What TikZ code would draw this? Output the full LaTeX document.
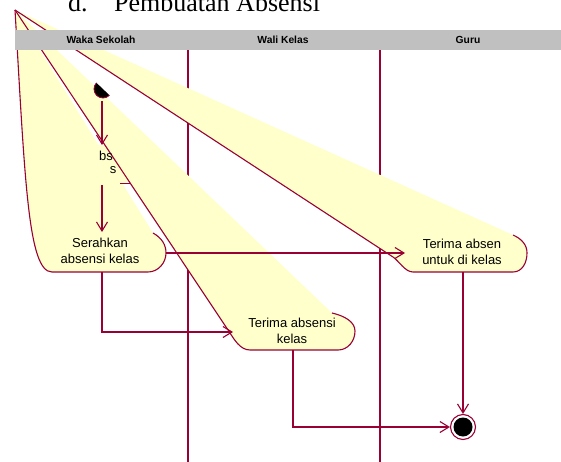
\documentclass[tikz,border=0pt]{standalone}
\usepackage{fontspec}
\setmainfont{Liberation Serif}
\newfontfamily\arialfont{Liberation Sans}
\usetikzlibrary{arrows.meta}
\definecolor{rosered}{RGB}{153,0,51}
\definecolor{noteyellow}{RGB}{255,255,204}
\definecolor{lanegray}{RGB}{192,192,192}

\begin{document}
\begin{tikzpicture}[x=1pt,y=-1pt,
  flow/.style={draw=rosered, line width=1.1pt,
    -{Straight Barb[length=9pt,width=11pt,line width=1.1pt]}},
  outline/.style={draw=rosered, line width=1.1pt},
  acttext/.style={font=\arialfont\fontsize{13}{16}\selectfont, align=center,
    text=black, inner sep=0pt},
  lanelabel/.style={font=\arialfont\bfseries\fontsize{10.3}{12}\selectfont,
    inner sep=0pt},
  lanerule/.style={draw=rosered, line width=1.1pt},
  titletext/.style={font=\fontsize{26}{30}\selectfont, anchor=base west,
    inner sep=0pt}]
\useasboundingbox (0,0) rectangle (561,462);

% swimlane separators
\draw[lanerule] (188,50) -- (188,462);
\draw[lanerule] (380,50) -- (380,462);

% first activity (mostly covered)
\fill[noteyellow] (68,145) -- (122,145) .. controls (140,145) and (140,184) .. (122,184)
  -- (68,184) -- cycle;

\coordinate (apex) at (15,10);

% activity: Serahkan absensi kelas
\fill[noteyellow] (apex) -- (153,233) .. controls (162,238) and (166,245) .. (166,253)
  .. controls (166,263) and (158,272) .. (148,272) -- (52,272)
  .. controls (28,272) and (25,180) .. (apex) -- cycle;
\draw[outline] (153,233) .. controls (162,238) and (166,245) .. (166,253)
  .. controls (166,263) and (158,272) .. (148,272) -- (52,272)
  .. controls (28,272) and (25,180) .. (apex);

% activity: Terima absensi kelas
\fill[noteyellow] (apex) -- (332,313) .. controls (345,316) and (355,322) .. (355,331)
  .. controls (355,341) and (348,350) .. (338,350) -- (250,350)
  .. controls (240,350) and (234,339) .. (230,333) -- cycle;
\draw[outline] (332,313) .. controls (345,316) and (355,322) .. (355,331)
  .. controls (355,341) and (348,350) .. (338,350) -- (250,350)
  .. controls (240,350) and (234,339) .. (230,333) -- (apex);

% activity: Terima absen untuk di kelas
\fill[noteyellow] (apex) -- (513,235) .. controls (522,239) and (527,245) .. (527,253)
  .. controls (527,263) and (522,272) .. (513,272) -- (413,272)
  .. controls (405,272) and (399,261) .. (393,257) -- cycle;
\draw[outline] (513,235) .. controls (522,239) and (527,245) .. (527,253)
  .. controls (527,263) and (522,272) .. (513,272) -- (413,272)
  .. controls (405,272) and (399,261) .. (393,257) -- (apex);

% initial state, its upper-left half hidden
\begin{scope}
  \clip (60,48) -- (150,134) -- (150,140) -- (60,140) -- cycle;
  \node[circle, fill=black, draw=rosered, line width=0.8pt, minimum size=18pt,
    inner sep=0pt] (start) at (103,89) {};
\end{scope}

% activity texts
\node[acttext] (frag1) at (106,156) {bs};
\node[acttext] (frag2) at (113,170) {s};
\draw[outline] (120,183.5) -- (131,183.5);
\node[acttext] (S) at (100,251) {Serahkan\\absensi kelas};
\node[acttext] (T) at (292,330.5) {Terima absensi\\kelas};
\node[acttext] (G) at (462,252) {Terima absen\\untuk di kelas};

% connection points
\coordinate (H-top) at (102,145);
\coordinate (H-bottom) at (102,185);
\coordinate (S-top) at (102,232);
\coordinate (S-right) at (166,253);
\coordinate (S-bottom) at (102,272);
\coordinate (T-left) at (233,332);
\coordinate (T-bottom) at (293,350);
\coordinate (G-left) at (405,253);
\coordinate (G-bottom) at (463,272);

% final state
\node[circle, draw=rosered, line width=1.1pt, minimum size=25pt, inner sep=0pt]
  (end) at (463,427) {};
\fill[black] (end.center) circle (9.5);

% transitions
\draw[flow, shorten <=3pt] (start.south -| H-top) -- (H-top);
\draw[flow] (H-bottom) -- (S-top);
\draw[flow] (S-right) -- (G-left);
\draw[flow] (S-bottom) |- (T-left);
\draw[flow] (T-bottom) |- (end);
\draw[flow] (G-bottom) -- (end);

% swimlane header
\fill[lanegray] (15,30) rectangle (561,50);
\node[lanelabel] (lane1) at (101,40) {Waka Sekolah};
\node[lanelabel] (lane2) at (283,40) {Wali Kelas};
\node[lanelabel] (lane3) at (468,40) {Guru};

% heading above the diagram
\node[titletext] (headnum) at (68,11.5) {d.};
\node[titletext] (head) at (114,11.5) {Pembuatan Absensi};
\end{tikzpicture}
\end{document}
